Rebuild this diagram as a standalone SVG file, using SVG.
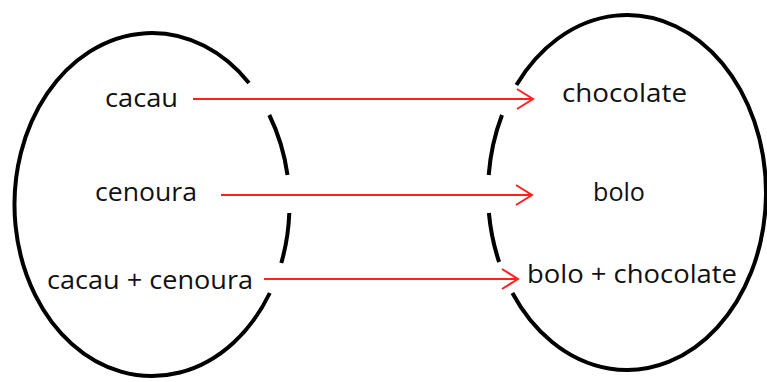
<svg xmlns="http://www.w3.org/2000/svg" width="767" height="382" viewBox="0 0 767 382">
  <defs>
    <style>
      .set { fill: none; stroke: #000; stroke-width: 4; stroke-linecap: butt; }
      .lbl { font-family: "Open Sans", "Liberation Sans", sans-serif; font-size: 26px; fill: #111; }
      .arrow { fill: none; stroke: #ff2020; stroke-width: 2; }
    </style>
    <marker id="head" viewBox="0 0 20 24" refX="18" refY="12" markerWidth="20" markerHeight="24" markerUnits="userSpaceOnUse" orient="auto">
      <path d="M 2 2 L 18 12 L 2 22" fill="none" stroke="#ff2020" stroke-width="2"/>
    </marker>
  </defs>
  <rect width="767" height="382" fill="#fff"/>

  <!-- domain set -->
  <g id="domain">
    <path class="set" d="M 249 83 A 137.5 171.5 0 1 0 269.8 293 M 269.3 115 A 137.5 171.5 0 0 1 287.5 175 M 289.3 213 A 137.5 171.5 0 0 1 281.3 263"/>
  </g>

  <!-- codomain set -->
  <g id="codomain">
    <path class="set" d="M 516.4 85 A 139 177.5 0 1 1 512.4 293 M 502 115 A 139 177.5 0 0 0 488.7 175 M 488.9 213 A 139 177.5 0 0 0 499.1 262"/>
  </g>

  <g id="node-cacau"><text class="lbl" x="105" y="107" textLength="73" lengthAdjust="spacingAndGlyphs">cacau</text></g>
  <g id="node-cenoura"><text class="lbl" x="95" y="201" textLength="102" lengthAdjust="spacingAndGlyphs">cenoura</text></g>
  <g id="node-cacau-cenoura"><text class="lbl" x="47" y="289" textLength="206" lengthAdjust="spacingAndGlyphs">cacau + cenoura</text></g>
  <g id="node-chocolate"><text class="lbl" x="562" y="102" textLength="125" lengthAdjust="spacingAndGlyphs">chocolate</text></g>
  <g id="node-bolo"><text class="lbl" x="593" y="201" textLength="52" lengthAdjust="spacingAndGlyphs">bolo</text></g>
  <g id="node-bolo-chocolate"><text class="lbl" x="527" y="283" textLength="210" lengthAdjust="spacingAndGlyphs">bolo + chocolate</text></g>

  <g id="connectors">
    <line class="arrow" x1="193" y1="99" x2="533" y2="99" marker-end="url(#head)"/>
    <line class="arrow" x1="221" y1="195" x2="532" y2="195" marker-end="url(#head)"/>
    <line class="arrow" x1="264" y1="279" x2="518" y2="279" marker-end="url(#head)"/>
  </g>
</svg>
